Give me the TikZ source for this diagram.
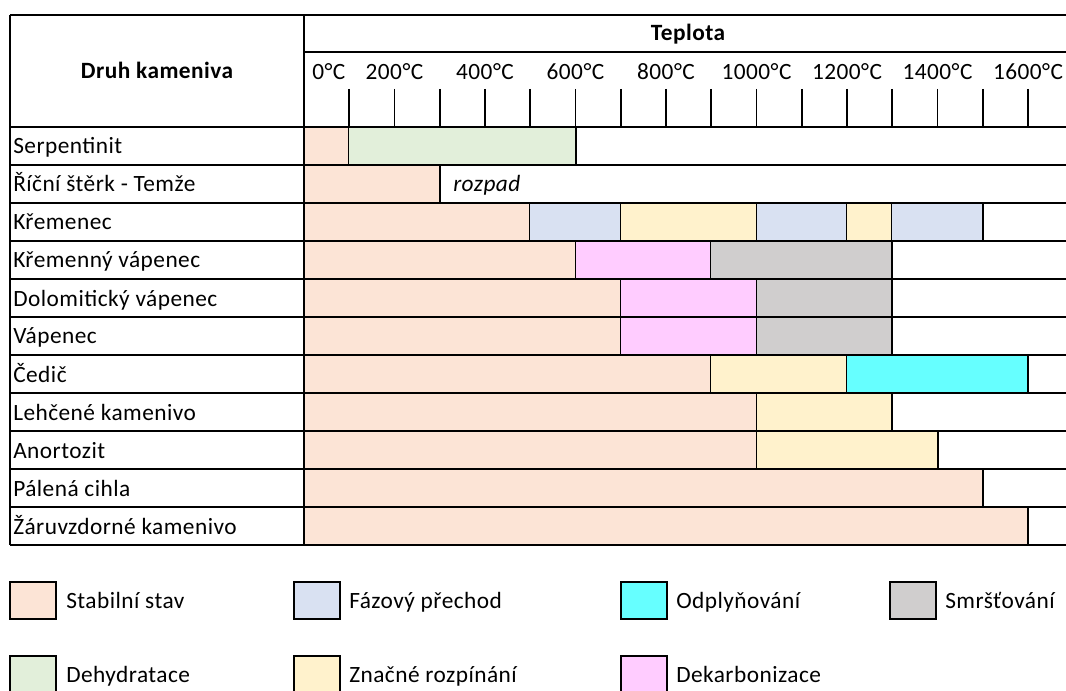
\documentclass[tikz,border=0pt]{standalone}
\usepackage{fontspec}
\setmainfont{Carlito}[LetterSpace=2]
\definecolor{cstab}{HTML}{FCE4D6}
\definecolor{cphase}{HTML}{D9E1F2}
\definecolor{cgas}{HTML}{66FFFF}
\definecolor{cshr}{HTML}{D0CECE}
\definecolor{cdeh}{HTML}{E2EFDA}
\definecolor{cexp}{HTML}{FFF2CC}
\definecolor{cdek}{HTML}{FFCCFF}
\newcommand{\tX}[1]{{304+0.4525*(#1)}}
\newcommand{\segfill}[4]{\fill[#4] (\tX{#2},{127+38*(#1-1)}) rectangle (\tX{#3},{127+38*(#1)});\draw[sepline] (\tX{#3},{127+38*(#1-1)}) -- (\tX{#3},{127+38*(#1)});}
\begin{document}
\begin{tikzpicture}[x=0.75pt,y=-0.75pt,
  grid/.style={line width=1.5pt,black},
  sepline/.style={line width=1.5pt,black},
  tickline/.style={line width=1.3pt,black},
  lbl/.style={font=\fontsize{17.5}{20}\selectfont,inner sep=0pt,anchor=base},
  hdr/.style={font=\fontsize{17.5}{20}\selectfont\bfseries,inner sep=0pt,anchor=base},
  rowlbl/.style={lbl,anchor=base west},
  legbox/.style={draw=black,line width=1.5pt,minimum width=34.5pt,minimum height=27.75pt,inner sep=0pt,anchor=north west}]
\useasboundingbox (0,0) rectangle (1066,691);
\begin{scope}
\clip (0,0) rectangle (1066,691);
% bars
\segfill{1}{0}{100}{cstab}
\segfill{1}{100}{600}{cdeh}
\segfill{2}{0}{300}{cstab}
\segfill{3}{0}{500}{cstab}
\segfill{3}{500}{700}{cphase}
\segfill{3}{700}{1000}{cexp}
\segfill{3}{1000}{1200}{cphase}
\segfill{3}{1200}{1300}{cexp}
\segfill{3}{1300}{1500}{cphase}
\segfill{4}{0}{600}{cstab}
\segfill{4}{600}{900}{cdek}
\segfill{4}{900}{1300}{cshr}
\segfill{5}{0}{700}{cstab}
\segfill{5}{700}{1000}{cdek}
\segfill{5}{1000}{1300}{cshr}
\segfill{6}{0}{700}{cstab}
\segfill{6}{700}{1000}{cdek}
\segfill{6}{1000}{1300}{cshr}
\segfill{7}{0}{900}{cstab}
\segfill{7}{900}{1200}{cexp}
\segfill{7}{1200}{1600}{cgas}
\segfill{8}{0}{1000}{cstab}
\segfill{8}{1000}{1300}{cexp}
\segfill{9}{0}{1000}{cstab}
\segfill{9}{1000}{1400}{cexp}
\segfill{10}{0}{1500}{cstab}
\segfill{11}{0}{1600}{cstab}
% grid
\draw[grid] (10,15) -- (1080,15);
\draw[grid] (10,15) -- (10,545);
\draw[grid] (304,15) -- (304,545);
\draw[grid] (304,52.5) -- (1080,52.5);
\foreach \i in {0,...,11} {\draw[grid] (10,{127+38*\i}) -- (1080,{127+38*\i});}
\foreach \t in {100,200,...,1600} {\draw[tickline] (\tX{\t},89) -- (\tX{\t},127);}
% header text
\node[hdr] (druh) at (157,79) {Druh kameniva};
\node[hdr] (teplota) at (688,41) {Teplota};
\node[rowlbl] (t0) at (312,80) {0°C};
\foreach \t in {200,400,...,1600} {\node[lbl] (t\t) at (\tX{\t},80) {\t°C};}
% row labels
\node[rowlbl] (r1) at (13,154) {Serpentinit};
\node[rowlbl] (r2) at (13,192) {Říční štěrk - Temže};
\node[rowlbl] (r3) at (13,230) {Křemenec};
\node[rowlbl] (r4) at (13,268) {Křemenný vápenec};
\node[rowlbl] (r5) at (13,306) {Dolomitický vápenec};
\node[rowlbl] (r6) at (13,344) {Vápenec};
\node[rowlbl] (r7) at (13,382) {Čedič};
\node[rowlbl] (r8) at (13,420) {Lehčené kamenivo};
\node[rowlbl] (r9) at (13,458) {Anortozit};
\node[rowlbl] (r10) at (13,496) {Pálená cihla};
\node[rowlbl] (r11) at (13,534) {Žáruvzdorné kamenivo};
\node[rowlbl,font=\fontsize{17.5}{20}\selectfont\itshape] (rozpad) at (453,192) {rozpad};
% legend
\node[legbox,fill=cstab] (l1) at (9,581) {};
\node[rowlbl] (l1t) at (66,608) {Stabilní stav};
\node[legbox,fill=cphase] (l2) at (293,581) {};
\node[rowlbl] (l2t) at (349,608) {Fázový přechod};
\node[legbox,fill=cgas] (l3) at (620,581) {};
\node[rowlbl] (l3t) at (676,608) {Odplyňování};
\node[legbox,fill=cshr] (l4) at (889,581) {};
\node[rowlbl] (l4t) at (945,608) {Smršťování};
\node[legbox,fill=cdeh] (l5) at (9,655) {};
\node[rowlbl] (l5t) at (66,682) {Dehydratace};
\node[legbox,fill=cexp] (l6) at (293,655) {};
\node[rowlbl] (l6t) at (349,682) {Značné rozpínání};
\node[legbox,fill=cdek] (l7) at (620,655) {};
\node[rowlbl] (l7t) at (676,682) {Dekarbonizace};
\end{scope}
\end{tikzpicture}
\end{document}
